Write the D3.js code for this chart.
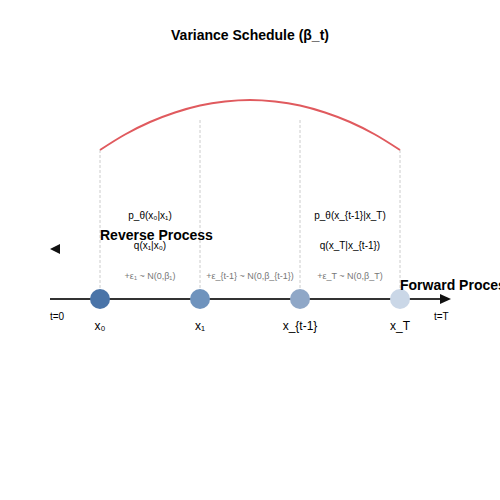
<!DOCTYPE html>
<html><head><meta charset="utf-8">
<script src="https://cdn.jsdelivr.net/npm/d3@7"></script>
<style>body{margin:0;background:#fff}text{font-family:"Liberation Sans",Arial,sans-serif}</style>
</head><body><svg id="chart" width="500" height="500"></svg>
<script>
// step positions and labels
var steps = [0, 1, 2, 3];
var nodeLabels = ["x\u2080", "x\u2081", "x_{t-1}", "x_T"];
var nodeColors = ["#4a74a8", "#6f93bd", "#8fa7c7", "#cad7e7"];
var reverseLabels = ["p_\u03b8(x\u2080|x\u2081)", "", "p_\u03b8(x_{t-1}|x_T)"];
var forwardLabels = ["q(x\u2081|x\u2080)", "", "q(x_T|x_{t-1})"];
var noiseLabels = ["+\u03b5\u2081 ~ N(0,\u03b2\u2081)", "+\u03b5_{t-1} ~ N(0,\u03b2_{t-1})", "+\u03b5_T ~ N(0,\u03b2_T)"];
// variance schedule
var schedT = [0, 0.25, 0.5, 0.75, 1, 1.25, 1.5, 1.75, 2, 2.25, 2.5, 2.75, 3];
var schedBeta = [0, 0.31, 0.56, 0.75, 0.89, 0.97, 1, 0.97, 0.89, 0.75, 0.56, 0.31, 0];

var svg = d3.select("#chart");
var x = d3.scaleLinear().domain([0, 3]).range([100, 400]);
var y = d3.scaleLinear().domain([0, 1]).range([150, 100]);
var axisY = 299;

svg.append("text").attr("x", 250).attr("y", 40).attr("text-anchor", "middle")
  .attr("font-size", 14).attr("font-weight", "bold").text("Variance Schedule (\u03b2_t)");

//dashed guides
svg.selectAll(".guide").data(steps).enter().append("line")
  .attr("x1", d => x(d)).attr("x2", d => x(d))
  .attr("y1", d => (d == 0 || d == 3) ? 150 : 120).attr("y2", axisY)
  .attr("stroke", "#ccc").attr("stroke-dasharray", "3,2");

//schedule curve
svg.append("path").datum(schedT.map((t, i) => [t, schedBeta[i]]))
  .attr("d", d3.line().x(d => x(d[0])).y(d => y(d[1])).curve(d3.curveMonotoneX))
  .attr("fill", "none").attr("stroke", "#e05a5e").attr("stroke-width", 2);

//axis with arrow
svg.append("line").attr("x1", 50).attr("x2", 442).attr("y1", axisY).attr("y2", axisY)
  .attr("stroke", "#333").attr("stroke-width", 2);
svg.append("path").attr("d", "M440,294L451,299L440,304Z").attr("fill", "#111");

svg.selectAll(".node").data(steps).enter().append("circle")
  .attr("cx", d => x(d)).attr("cy", axisY).attr("r", 10).attr("fill", (d, i) => nodeColors[i]);
svg.selectAll(".nlab").data(steps).enter().append("text")
  .attr("x", d => x(d)).attr("y", 330).attr("text-anchor", "middle").attr("font-size", 12)
  .text((d, i) => nodeLabels[i]);

var mids = [0.5, 1.5, 2.5];
svg.selectAll(".rev").data(mids).enter().append("text")
  .attr("x", d => d == 1.5 ? x(d) : x(d)).attr("y", 219).attr("text-anchor", "middle")
  .attr("font-size", 10).text((d, i) => reverseLabels[i]);
svg.selectAll(".fwd").data(mids).enter().append("text")
  .attr("x", d => x(d)).attr("y", 249).attr("text-anchor", "middle")
  .attr("font-size", 10).text((d, i) => forwardLabels[i]);
svg.selectAll(".noise").data(mids).enter().append("text")
  .attr("x", d => x(d)).attr("y", 279).attr("text-anchor", "middle")
  .attr("font-size", 9).attr("fill", "#777").text((d, i) => noiseLabels[i]);

svg.append("text").attr("x", 100).attr("y", 240).attr("font-size", 14).attr("font-weight", "bold").text("Reverse Process");
svg.append("text").attr("x", 400).attr("y", 290).attr("font-size", 14).attr("font-weight", "bold").text("Forward Process");
svg.append("path").attr("d", "M50,249L60,244L60,254Z").attr("fill", "#111");

svg.append("text").attr("x", 50).attr("y", 320).attr("font-size", 10).text("t=0");
svg.append("text").attr("x", 434).attr("y", 320).attr("font-size", 10).text("t=T");
</script></body></html>
